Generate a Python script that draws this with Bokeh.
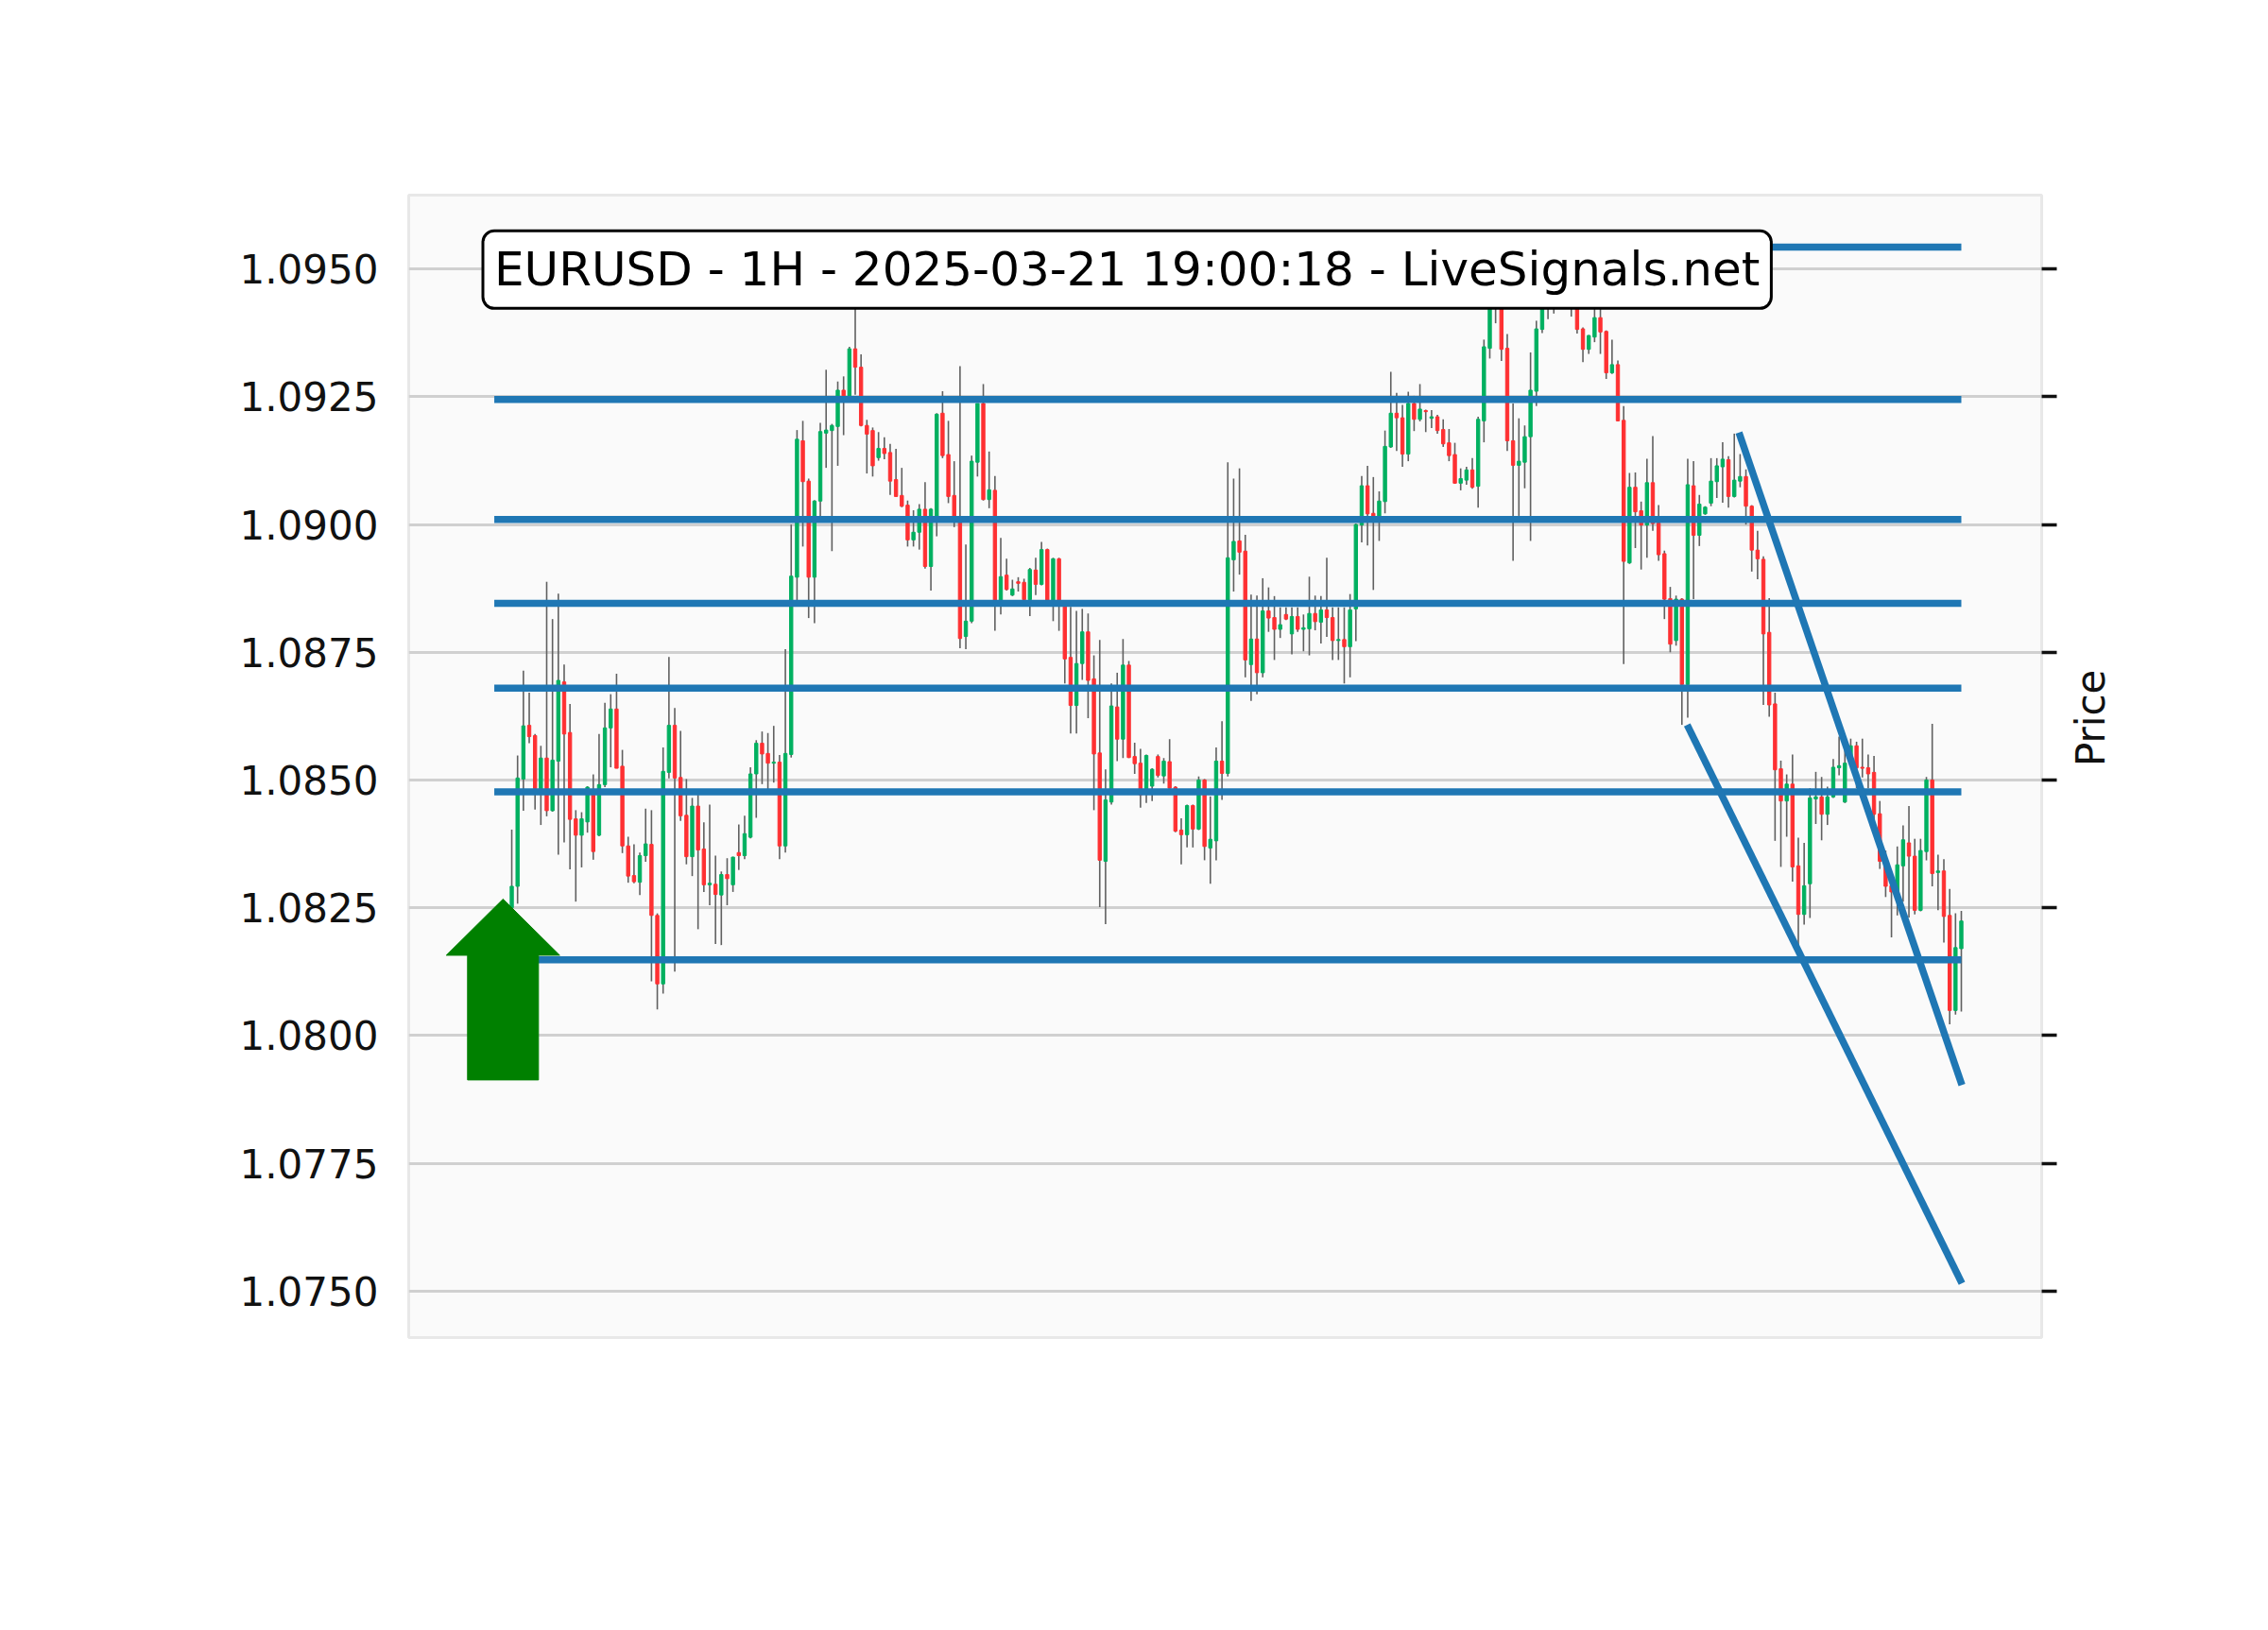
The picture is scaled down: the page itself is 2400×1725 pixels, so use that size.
import math
from bokeh.plotting import figure
from bokeh.models import Range1d, LinearAxis, FixedTicker, PrintfTickFormatter, Label
from bokeh.embed import file_html
from bokeh.resources import INLINE

# ---------------- data ----------------
opens = [1.08250, 1.08292, 1.08502, 1.08607, 1.08587, 1.08477, 1.08543, 1.08440, 1.08537, 1.08692,
         1.08593, 1.08424, 1.08392, 1.08418, 1.08471, 1.08392, 1.08491, 1.08602, 1.08639, 1.08527,
         1.08371, 1.08313, 1.08300, 1.08352, 1.08374, 1.08235, 1.08101, 1.08515, 1.08607, 1.08505,
         1.08431, 1.08350, 1.08449, 1.08365, 1.08295, 1.08296, 1.08275, 1.08315, 1.08295, 1.08358,
         1.08352, 1.08388, 1.08512, 1.08572, 1.08552, 1.08533, 1.08535, 1.08371, 1.08550, 1.08897,
         1.09164, 1.09085, 1.08897, 1.09046, 1.09179, 1.09184, 1.09192, 1.09263, 1.09252, 1.09344,
         1.09308, 1.09194, 1.09184, 1.09131, 1.09149, 1.09141, 1.09088, 1.09057, 1.09038, 1.08970,
         1.08985, 1.09030, 1.08918, 1.09012, 1.09218, 1.09137, 1.09057, 1.09012, 1.08781, 1.08811,
         1.09122, 1.09237, 1.09049, 1.09067, 1.08849, 1.08901, 1.08862, 1.08888, 1.08887, 1.08853,
         1.08911, 1.08883, 1.08951, 1.08846, 1.08933, 1.08842, 1.08740, 1.08646, 1.08728, 1.08790,
         1.08698, 1.08553, 1.08341, 1.08457, 1.08643, 1.08580, 1.08725, 1.08546, 1.08533, 1.08475,
         1.08488, 1.08546, 1.08508, 1.08536, 1.08486, 1.08402, 1.08393, 1.08450, 1.08404, 1.08500,
         1.08367, 1.08381, 1.08537, 1.08513, 1.08931, 1.08968, 1.08948, 1.08726, 1.08776, 1.08710,
         1.08831, 1.08818, 1.08795, 1.08824, 1.08786, 1.08820, 1.08795, 1.08796, 1.08826, 1.08809,
         1.08833, 1.08818, 1.08773, 1.08775, 1.08761, 1.08835, 1.08999, 1.09076, 1.09022, 1.09017,
         1.09045, 1.09152, 1.09218, 1.09209, 1.09138, 1.09237, 1.09206, 1.09223, 1.09208, 1.09211,
         1.09186, 1.09160, 1.09137, 1.09081, 1.09087, 1.09107, 1.09075, 1.09203, 1.09345, 1.09440,
         1.09470, 1.09345, 1.09164, 1.09116, 1.09122, 1.09172, 1.09261, 1.09382, 1.09440, 1.09460,
         1.09450, 1.09480, 1.09460, 1.09440, 1.09383, 1.09343, 1.09367, 1.09405, 1.09378, 1.09297,
         1.09313, 1.09204, 1.08925, 1.09073, 1.09027, 1.08999, 1.09082, 1.09003, 1.08943, 1.08855,
         1.08773, 1.08854, 1.08687, 1.09076, 1.08979, 1.09021, 1.09042, 1.09084, 1.09113, 1.09127,
         1.09055, 1.09085, 1.09094, 1.09036, 1.08950, 1.08932, 1.08789, 1.08649, 1.08522, 1.08459,
         1.08492, 1.08332, 1.08237, 1.08297, 1.08463, 1.08467, 1.08433, 1.08467, 1.08524, 1.08457,
         1.08533, 1.08567, 1.08525, 1.08524, 1.08515, 1.08434, 1.08341, 1.08293, 1.08281, 1.08332,
         1.08377, 1.08351, 1.08245, 1.08360, 1.08500, 1.08319, 1.08322, 1.08235, 1.08049, 1.08170]

highs = [1.08403, 1.08548, 1.08714, 1.08671, 1.08590, 1.08567, 1.08888, 1.08815, 1.08865, 1.08726,
         1.08649, 1.08441, 1.08437, 1.08488, 1.08511, 1.08590, 1.08651, 1.08668, 1.08708, 1.08559,
         1.08389, 1.08374, 1.08358, 1.08444, 1.08441, 1.08239, 1.08564, 1.08741, 1.08641, 1.08596,
         1.08502, 1.08465, 1.08471, 1.08417, 1.08452, 1.08352, 1.08321, 1.08347, 1.08350, 1.08413,
         1.08430, 1.08525, 1.08578, 1.08595, 1.08592, 1.08606, 1.08549, 1.08756, 1.09000, 1.09185,
         1.09203, 1.09090, 1.09048, 1.09199, 1.09303, 1.09197, 1.09280, 1.09290, 1.09348, 1.09423,
         1.09333, 1.09205, 1.09190, 1.09181, 1.09171, 1.09158, 1.09148, 1.09111, 1.09047, 1.09028,
         1.09040, 1.09083, 1.09032, 1.09218, 1.09261, 1.09203, 1.09124, 1.09310, 1.08961, 1.09135,
         1.09237, 1.09275, 1.09143, 1.09095, 1.08974, 1.08933, 1.08892, 1.08897, 1.08894, 1.08915,
         1.08935, 1.08966, 1.08953, 1.08935, 1.08935, 1.08844, 1.08839, 1.08831, 1.08835, 1.08826,
         1.08744, 1.08774, 1.08521, 1.08689, 1.08710, 1.08776, 1.08733, 1.08573, 1.08561, 1.08550,
         1.08523, 1.08550, 1.08543, 1.08580, 1.08488, 1.08425, 1.08452, 1.08452, 1.08507, 1.08502,
         1.08468, 1.08564, 1.08615, 1.09122, 1.09090, 1.09110, 1.08980, 1.08863, 1.08861, 1.08895,
         1.08877, 1.08860, 1.08838, 1.08838, 1.08838, 1.08838, 1.08824, 1.08898, 1.08861, 1.08860,
         1.08935, 1.08838, 1.08838, 1.08838, 1.08864, 1.09002, 1.09095, 1.09115, 1.09093, 1.09065,
         1.09184, 1.09299, 1.09258, 1.09234, 1.09260, 1.09252, 1.09275, 1.09225, 1.09224, 1.09215,
         1.09206, 1.09187, 1.09160, 1.09110, 1.09113, 1.09130, 1.09211, 1.09362, 1.09470, 1.09500,
         1.09490, 1.09373, 1.09237, 1.09208, 1.09194, 1.09337, 1.09399, 1.09470, 1.09490, 1.09500,
         1.09510, 1.09500, 1.09490, 1.09460, 1.09386, 1.09371, 1.09440, 1.09440, 1.09380, 1.09362,
         1.09321, 1.09232, 1.09101, 1.09102, 1.09045, 1.09129, 1.09173, 1.09038, 1.08949, 1.08878,
         1.08861, 1.08856, 1.09129, 1.09124, 1.09058, 1.09036, 1.09130, 1.09130, 1.09161, 1.09134,
         1.09178, 1.09138, 1.09108, 1.09038, 1.08988, 1.08938, 1.08856, 1.08671, 1.08538, 1.08511,
         1.08550, 1.08387, 1.08377, 1.08484, 1.08516, 1.08506, 1.08487, 1.08541, 1.08585, 1.08558,
         1.08581, 1.08575, 1.08581, 1.08550, 1.08547, 1.08459, 1.08362, 1.08295, 1.08370, 1.08411,
         1.08449, 1.08385, 1.08385, 1.08506, 1.08610, 1.08354, 1.08345, 1.08287, 1.08239, 1.08244]

lows = [1.08220, 1.08258, 1.08440, 1.08572, 1.08442, 1.08412, 1.08429, 1.08438, 1.08354, 1.08378,
        1.08325, 1.08262, 1.08329, 1.08397, 1.08344, 1.08390, 1.08486, 1.08525, 1.08523, 1.08357,
        1.08299, 1.08298, 1.08275, 1.08340, 1.08106, 1.08051, 1.08082, 1.08503, 1.08125, 1.08420,
        1.08335, 1.08312, 1.08208, 1.08281, 1.08255, 1.08179, 1.08177, 1.08255, 1.08281, 1.08324,
        1.08345, 1.08386, 1.08426, 1.08492, 1.08482, 1.08495, 1.08345, 1.08358, 1.08544, 1.08846,
        1.08957, 1.08817, 1.08807, 1.09017, 1.09111, 1.08948, 1.09115, 1.09175, 1.09250, 1.09254,
        1.09192, 1.09100, 1.09094, 1.09125, 1.09128, 1.09058, 1.09055, 1.09034, 1.08957, 1.08957,
        1.08951, 1.08914, 1.08871, 1.08977, 1.09130, 1.09042, 1.08995, 1.08758, 1.08756, 1.08807,
        1.09094, 1.09047, 1.09032, 1.08792, 1.08824, 1.08871, 1.08860, 1.08869, 1.08849, 1.08821,
        1.08862, 1.08881, 1.08845, 1.08811, 1.08792, 1.08689, 1.08591, 1.08591, 1.08696, 1.08621,
        1.08441, 1.08251, 1.08218, 1.08452, 1.08537, 1.08543, 1.08543, 1.08512, 1.08446, 1.08455,
        1.08459, 1.08505, 1.08493, 1.08483, 1.08398, 1.08335, 1.08368, 1.08368, 1.08402, 1.08343,
        1.08297, 1.08343, 1.08461, 1.08507, 1.08869, 1.08902, 1.08701, 1.08655, 1.08668, 1.08701,
        1.08790, 1.08735, 1.08778, 1.08813, 1.08746, 1.08790, 1.08752, 1.08744, 1.08793, 1.08767,
        1.08780, 1.08735, 1.08735, 1.08689, 1.08701, 1.08772, 1.08965, 1.08959, 1.08872, 1.08968,
        1.09022, 1.09150, 1.09144, 1.09113, 1.09124, 1.09183, 1.09202, 1.09181, 1.09189, 1.09178,
        1.09152, 1.09124, 1.09080, 1.09067, 1.09078, 1.09070, 1.09033, 1.09161, 1.09325, 1.09394,
        1.09320, 1.09144, 1.08929, 1.09017, 1.09071, 1.08968, 1.09232, 1.09375, 1.09402, 1.09413,
        1.09435, 1.09425, 1.09407, 1.09374, 1.09318, 1.09334, 1.09357, 1.09334, 1.09285, 1.09295,
        1.09202, 1.08727, 1.08923, 1.08954, 1.08912, 1.08935, 1.08988, 1.08929, 1.08815, 1.08750,
        1.08763, 1.08608, 1.08622, 1.08854, 1.08958, 1.09019, 1.09036, 1.09052, 1.09043, 1.09033,
        1.09053, 1.09073, 1.09000, 1.08908, 1.08893, 1.08647, 1.08624, 1.08381, 1.08330, 1.08389,
        1.08301, 1.08144, 1.08217, 1.08230, 1.08414, 1.08382, 1.08412, 1.08465, 1.08509, 1.08455,
        1.08528, 1.08484, 1.08505, 1.08484, 1.08410, 1.08326, 1.08271, 1.08192, 1.08235, 1.08262,
        1.08231, 1.08237, 1.08243, 1.08343, 1.08292, 1.08245, 1.08182, 1.08022, 1.08041, 1.08047]

closes = [1.08292, 1.08504, 1.08606, 1.08585, 1.08483, 1.08543, 1.08440, 1.08539, 1.08695, 1.08590,
          1.08423, 1.08392, 1.08424, 1.08486, 1.08360, 1.08491, 1.08602, 1.08639, 1.08523, 1.08371,
          1.08312, 1.08301, 1.08352, 1.08375, 1.08235, 1.08101, 1.08517, 1.08607, 1.08504, 1.08430,
          1.08350, 1.08449, 1.08363, 1.08295, 1.08298, 1.08276, 1.08315, 1.08307, 1.08349, 1.08352,
          1.08395, 1.08512, 1.08572, 1.08551, 1.08533, 1.08535, 1.08371, 1.08552, 1.08899, 1.09167,
          1.09084, 1.08897, 1.09046, 1.09182, 1.09185, 1.09194, 1.09263, 1.09252, 1.09344, 1.09308,
          1.09194, 1.09177, 1.09115, 1.09149, 1.09139, 1.09085, 1.09055, 1.09036, 1.08970, 1.08985,
          1.09030, 1.08918, 1.09030, 1.09216, 1.09135, 1.09055, 1.09014, 1.08777, 1.08811, 1.09124,
          1.09237, 1.09049, 1.09068, 1.08849, 1.08898, 1.08873, 1.08874, 1.08885, 1.08853, 1.08912,
          1.08883, 1.08951, 1.08847, 1.08933, 1.08842, 1.08737, 1.08646, 1.08728, 1.08790, 1.08695,
          1.08551, 1.08343, 1.08461, 1.08645, 1.08580, 1.08725, 1.08544, 1.08532, 1.08471, 1.08548,
          1.08521, 1.08509, 1.08537, 1.08484, 1.08400, 1.08393, 1.08450, 1.08404, 1.08500, 1.08370,
          1.08384, 1.08537, 1.08513, 1.08935, 1.08967, 1.08946, 1.08735, 1.08776, 1.08710, 1.08831,
          1.08817, 1.08795, 1.08804, 1.08815, 1.08820, 1.08795, 1.08798, 1.08826, 1.08810, 1.08833,
          1.08818, 1.08773, 1.08775, 1.08761, 1.08833, 1.09000, 1.09076, 1.09021, 1.09017, 1.09046,
          1.09153, 1.09218, 1.09209, 1.09138, 1.09237, 1.09206, 1.09226, 1.09221, 1.09211, 1.09184,
          1.09158, 1.09135, 1.09081, 1.09090, 1.09107, 1.09073, 1.09206, 1.09348, 1.09440, 1.09470,
          1.09343, 1.09164, 1.09116, 1.09124, 1.09172, 1.09263, 1.09383, 1.09440, 1.09460, 1.09450,
          1.09480, 1.09460, 1.09440, 1.09382, 1.09343, 1.09370, 1.09405, 1.09377, 1.09297, 1.09313,
          1.09203, 1.08928, 1.09073, 1.09025, 1.08999, 1.09082, 1.09002, 1.08941, 1.08854, 1.08766,
          1.08854, 1.08687, 1.09078, 1.08979, 1.09040, 1.09034, 1.09085, 1.09115, 1.09128, 1.09055,
          1.09087, 1.09094, 1.09036, 1.08950, 1.08933, 1.08786, 1.08647, 1.08520, 1.08459, 1.08492,
          1.08330, 1.08237, 1.08293, 1.08465, 1.08467, 1.08433, 1.08467, 1.08525, 1.08528, 1.08533,
          1.08567, 1.08524, 1.08523, 1.08512, 1.08433, 1.08341, 1.08292, 1.08281, 1.08334, 1.08383,
          1.08351, 1.08245, 1.08362, 1.08500, 1.08317, 1.08322, 1.08233, 1.08049, 1.08172, 1.08224]

candle_index = list(range(len(closes)))

# support / resistance levels
level_prices = [1.09543, 1.09245, 1.09010, 1.08846, 1.08680, 1.08477, 1.08148]
level_start = -3.0
level_end = 249.0

# trend lines (x in candle index, y in price)
trend_x0 = [210.8, 201.9]
trend_y0 = [1.09180, 1.08608]
trend_x1 = [249.1, 249.1]
trend_y1 = [1.07903, 1.07515]

# buy arrow
arrow_x = -1.5
arrow_tip = 1.08267
arrow_head_base = 1.08157
arrow_tail = 1.07913
arrow_head_half = 9.74
arrow_shaft_half = 6.09

price_ticks = [1.0750, 1.0775, 1.0800, 1.0825, 1.0850, 1.0875, 1.0900, 1.0925, 1.0950]
title_text = "EURUSD - 1H - 2025-03-21 19:00:18 - LiveSignals.net"
y_label = "Price"

# ---------------- styling ----------------
UP = "#00b060"
DOWN = "#fe3032"
WICK = "#606060"
BLUE = "#1f77b4"
FONT = "DejaVu Sans"

p = figure(width=2384, height=1709, output_backend="svg", toolbar_location=None,
           x_range=Range1d(-17.7, 262.8), y_range=Range1d(1.074088, 1.096448),
           x_axis_location=None, y_axis_location="left",
           min_border_left=432, min_border_right=224, min_border_top=206, min_border_bottom=294)
p.background_fill_color = "#fafafa"
p.border_fill_color = "white"
p.outline_line_color = "#e8e8e8"
p.outline_line_width = 3

ticker = FixedTicker(ticks=price_ticks)
yax = p.yaxis[0]
yax.ticker = ticker
yax.formatter = PrintfTickFormatter(format="%.4f")
yax.major_tick_line_color = None
yax.major_tick_out = 0
yax.major_tick_in = 0
yax.minor_tick_line_color = None
yax.axis_line_color = None
yax.major_label_standoff = 32
yax.major_label_text_font = FONT
yax.major_label_text_font_size = "42px"
yax.major_label_text_color = "#111111"

rax = LinearAxis(ticker=ticker, formatter=PrintfTickFormatter(format="%.4f"))
rax.bounds = (1.07342, 1.09501)
rax.major_tick_out = 16
rax.major_tick_in = 0
rax.major_tick_line_width = 3.5
rax.major_tick_line_color = "#111111"
rax.minor_tick_line_color = None
rax.axis_line_color = None
rax.major_label_text_color = None
rax.major_label_text_font_size = "1px"
rax.major_label_standoff = 4
use_axis_label = "axis_label_orientation" in rax.properties()
if use_axis_label:
    rax.axis_label = y_label
    rax.axis_label_orientation = math.pi / 2
    rax.axis_label_standoff = 36
    rax.axis_label_text_font = FONT
    rax.axis_label_text_font_size = "42px"
    rax.axis_label_text_font_style = "normal"
    rax.axis_label_text_color = "#111111"
p.add_layout(rax, "right")

p.xgrid.visible = False
p.ygrid.ticker = ticker
p.ygrid.grid_line_color = "#d0d0d0"
p.ygrid.grid_line_width = 3

# candles
body_top = [max(o, c) for o, c in zip(opens, closes)]
body_bot = [min(o, c) for o, c in zip(opens, closes)]
colors = [UP if c >= o else DOWN for o, c in zip(opens, closes)]

p.segment(x0=candle_index, y0=lows, x1=candle_index, y1=highs, line_color=WICK, line_width=1.6)
p.vbar(x=candle_index, width=0.55, top=body_top, bottom=body_bot,
       fill_color=colors, line_color=colors, line_width=1)

# levels
p.segment(x0=[level_start] * len(level_prices), x1=[level_end] * len(level_prices),
          y0=level_prices, y1=level_prices, line_color=BLUE, line_width=7.5)

# trend lines
p.segment(x0=trend_x0, y0=trend_y0, x1=trend_x1, y1=trend_y1, line_color=BLUE, line_width=7.5)

# arrow
ax_xs = [arrow_x - arrow_head_half, arrow_x, arrow_x + arrow_head_half,
         arrow_x + arrow_shaft_half, arrow_x + arrow_shaft_half,
         arrow_x - arrow_shaft_half, arrow_x - arrow_shaft_half]
ax_ys = [arrow_head_base, arrow_tip, arrow_head_base, arrow_head_base,
         arrow_tail, arrow_tail, arrow_head_base]
p.patch(ax_xs, ax_ys, fill_color="#008000", line_color="#008000", line_width=1)

# title box
title = Label(x=105.7, y=1.09499, text=title_text, text_align="center", text_baseline="middle",
              text_font=FONT, text_font_size="50px", text_color="black",
              background_fill_color="white", background_fill_alpha=1.0,
              border_line_color="black", border_line_width=3, border_radius=12, padding=12)
p.add_layout(title)

open("out.html", "w").write(file_html(p, INLINE))
